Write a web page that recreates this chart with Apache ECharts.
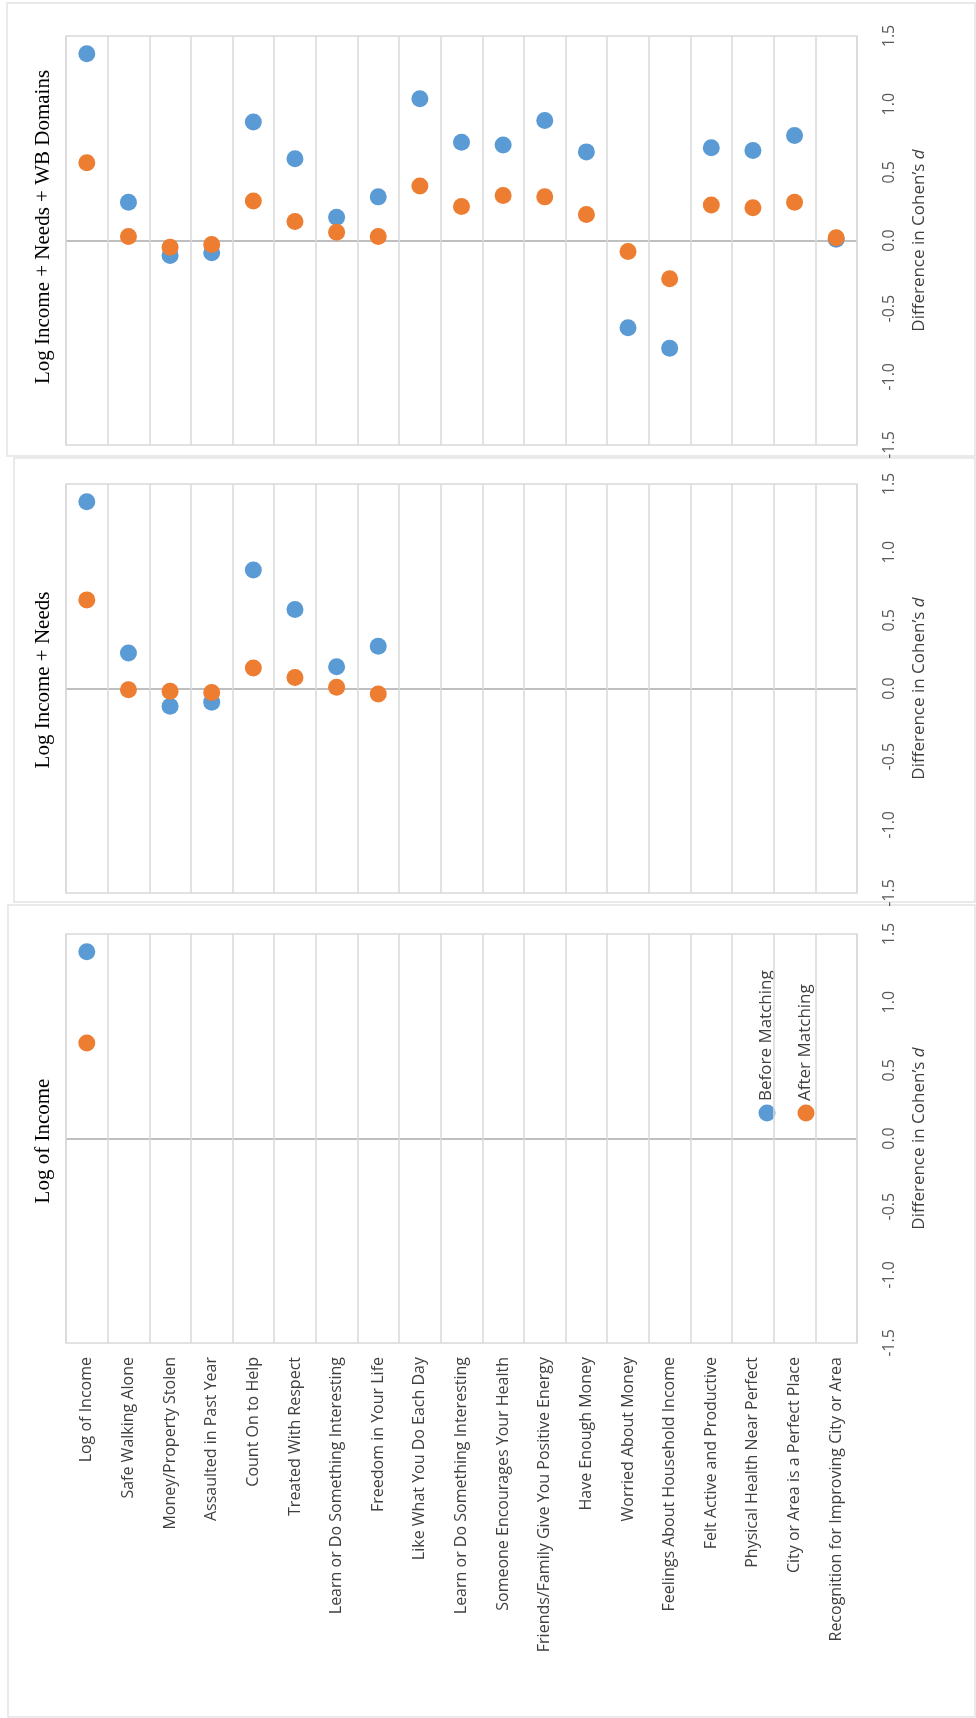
<!DOCTYPE html>
<html>
<head>
<meta charset="utf-8">
<script src="https://cdn.jsdelivr.net/npm/echarts@6/dist/echarts.min.js"></script>
<style>
html, body { margin: 0; padding: 0; background: #fff; }
#main { width: 976px; height: 1718px; }
</style>
</head>
<body>
<div id="main"></div>
<script>
// 类别
var categories = [
	'Log of Income', 'Safe Walking Alone', 'Money/Property Stolen', 'Assaulted in Past Year',
	'Count On to Help', 'Treated With Respect', 'Learn or Do Something Interesting',
	'Freedom in Your Life', 'Like What You Do Each Day', 'Learn or Do Something Interesting',
	'Someone Encourages Your Health', 'Friends/Family Give You Positive Energy', 'Have Enough Money',
	'Worried About Money', 'Feelings About Household Income', 'Felt Active and Productive',
	'Physical Health Near Perfect', 'City or Area is a Perfect Place', 'Recognition for Improving City or Area'
];
var seriesNames = ['Before Matching', 'After Matching'];
var panelTitles = ['Log Income + Needs + WB Domains', 'Log Income + Needs', 'Log of Income'];

// 上图 Log Income + Needs + WB Domains
var wbBefore = [1.37, 0.28, -0.11, -0.09, 0.87, 0.60, 0.17, 0.32, 1.04, 0.72, 0.70, 0.88, 0.65, -0.64, -0.79, 0.68, 0.66, 0.77, 0.01];
var wbAfter = [0.57, 0.03, -0.05, -0.03, 0.29, 0.14, 0.06, 0.03, 0.40, 0.25, 0.33, 0.32, 0.19, -0.08, -0.28, 0.26, 0.24, 0.28, 0.02];
// 中图 Log Income + Needs
var needsBefore = [1.37, 0.26, -0.13, -0.10, 0.87, 0.58, 0.16, 0.31];
var needsAfter = [0.65, -0.01, -0.02, -0.03, 0.15, 0.08, 0.01, -0.04];
// 下图 Log of Income
var incomeBefore = [1.37];
var incomeAfter = [0.70];

// y轴刻度
var yTicks = [-1.5, -1.0, -0.5, 0.0, 0.5, 1.0, 1.5];

var panelData = [[wbBefore, wbAfter], [needsBefore, needsAfter], [incomeBefore, incomeAfter]];
var colors = ['#5B9BD5', '#ED7D31'];
var gridTops = [36, 484, 934];
var titleY = [227, 680, 1141];
var labelFont = 'Open Sans';
var serifFont = 'Liberation Serif';

var myChart = echarts.init(document.getElementById('main'));

var grids = [], xAxes = [], yAxes = [], series = [], graphics = [];

//面板外框
graphics.push({ type: 'rect', shape: { x: 7, y: 3, width: 968, height: 453 }, style: { fill: 'none', stroke: '#e3e3e3', lineWidth: 1.5 }, silent: true });
graphics.push({ type: 'rect', shape: { x: 14, y: 458, width: 961, height: 444 }, style: { fill: 'none', stroke: '#e3e3e3', lineWidth: 1.5 }, silent: true });
graphics.push({ type: 'rect', shape: { x: 8, y: 905, width: 967, height: 812 }, style: { fill: 'none', stroke: '#e3e3e3', lineWidth: 1.5 }, silent: true });

for (var p = 0; p < 3; p++) {
	grids.push({
		left: 66, right: 119, top: gridTops[p], height: 409,
		show: true, borderColor: '#d9d9d9', borderWidth: 1.5
	});
	xAxes.push({
		type: 'category', gridIndex: p, data: categories, boundaryGap: true,
		axisLine: { show: false }, axisTick: { show: false },
		splitLine: { show: true, lineStyle: { color: '#d9d9d9', width: 1.5 } },
		axisLabel: {
			show: p === 2, rotate: 90, interval: 0, margin: 14,
			fontFamily: labelFont, fontSize: 16, color: '#404040'
		}
	});
	yAxes.push({
		type: 'value', gridIndex: p, position: 'right',
		min: -1.5, max: 1.5, interval: 0.5,
		axisLine: { show: false }, axisTick: { show: false },
		splitLine: {
			show: true,
			lineStyle: {
				width: 2,
				color: yTicks.map(function(v) { return v === 0 ? '#bfbfbf' : 'transparent'; })
			}
		},
		axisLabel: {
			rotate: 90, margin: 24, fontFamily: labelFont, fontSize: 16, color: '#595959',
			formatter: function(v) { return v.toFixed(1); }
		},
		name: '{n|Difference in Cohen\u2019s }{d|d}',
		nameLocation: 'middle', nameRotate: 90, nameGap: 54,
		nameTextStyle: {
			rich: {
				n: { fontFamily: labelFont, fontSize: 17, color: '#404040' },
				d: { fontFamily: labelFont, fontSize: 17, color: '#404040', fontStyle: 'italic' }
			}
		}
	});
	for (var s = 0; s < 2; s++) {
		series.push({
			name: seriesNames[s], type: 'scatter',
			xAxisIndex: p, yAxisIndex: p,
			symbolSize: 17,
			itemStyle: { color: colors[s], opacity: 1 },
			data: panelData[p][s]
		});
	}
	//标题 (竖排)
	graphics.push({
		type: 'text', x: 43, y: titleY[p], rotation: Math.PI / 2,
		style: { text: panelTitles[p], font: '21px "' + serifFont + '"', fill: '#000', align: 'center', verticalAlign: 'middle' },
		silent: true
	});
}

//图例
var legendX = [767, 806];
for (var i = 0; i < 2; i++) {
	graphics.push({ type: 'circle', shape: { cx: legendX[i], cy: 1113, r: 8.5 }, style: { fill: colors[i] }, silent: true });
	graphics.push({
		type: 'text', x: legendX[i] - 1, y: 1101, rotation: Math.PI / 2,
		style: { text: seriesNames[i], font: '17px "' + labelFont + '"', fill: '#404040', align: 'left', verticalAlign: 'middle' },
		silent: true
	});
}

var option = {
	animation: false,
	backgroundColor: '#fff',
	grid: grids,
	xAxis: xAxes,
	yAxis: yAxes,
	series: series,
	graphic: graphics
};
myChart.setOption(option);
</script>
</body>
</html>
